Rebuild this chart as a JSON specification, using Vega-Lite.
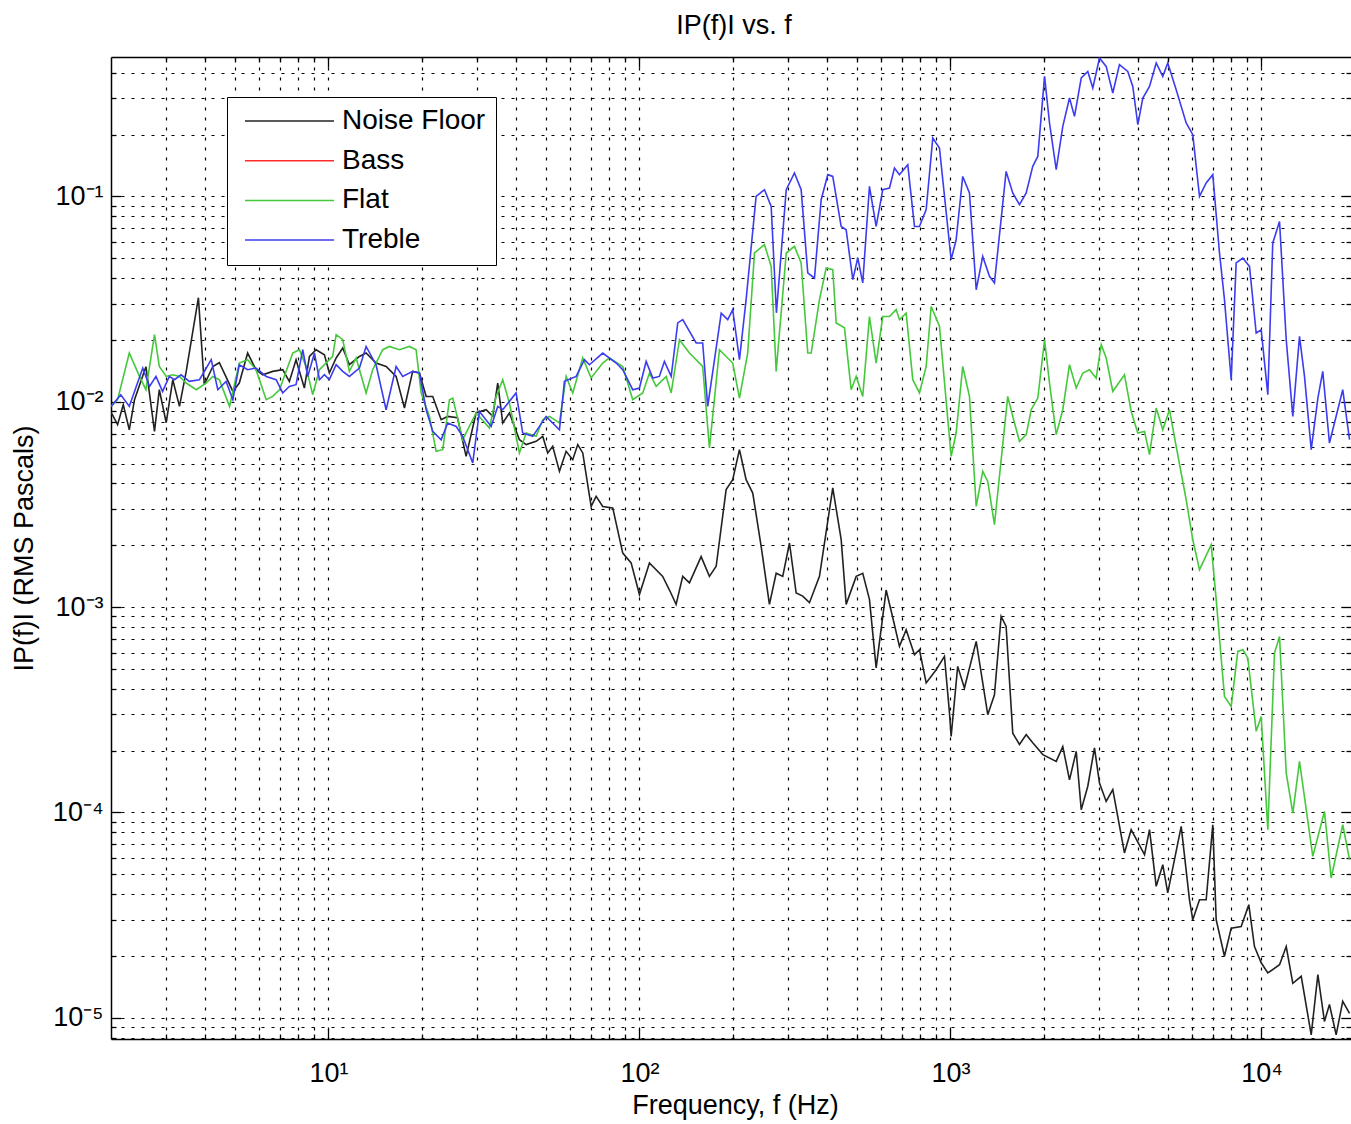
{
"$schema": "https://vega.github.io/schema/vega-lite/v6.json",
"width": 1240, "height": 982,
"autosize": {"type": "none"},
"padding": {"left": 111, "top": 57, "right": 0, "bottom": 85},
"background": "white",
"title": {"text": "IP(f)I vs. f", "font": "Liberation Sans", "fontSize": 27, "fontWeight": "normal", "color": "black", "offset": 16, "anchor": "middle", "dx": 3},
"config": {"view": {"stroke": null}},
"data": {"values": [
{"series":"Noise Floor","freq":2.00,"amp":0.00884},{"series":"Noise Floor","freq":2.02,"amp":0.00865},{"series":"Noise Floor","freq":2.10,"amp":0.00773},{"series":"Noise Floor","freq":2.19,"amp":0.00967},{"series":"Noise Floor","freq":2.29,"amp":0.0073},{"series":"Noise Floor","freq":2.38,"amp":0.01023},{"series":"Noise Floor","freq":2.59,"amp":0.01481},{"series":"Noise Floor","freq":2.76,"amp":0.00717},{"series":"Noise Floor","freq":2.86,"amp":0.01144},{"series":"Noise Floor","freq":3.01,"amp":0.0079},{"series":"Noise Floor","freq":3.16,"amp":0.0128},{"series":"Noise Floor","freq":3.32,"amp":0.00949},{"series":"Noise Floor","freq":3.49,"amp":0.01405},{"series":"Noise Floor","freq":3.82,"amp":0.0321},{"series":"Noise Floor","freq":3.99,"amp":0.0121},{"series":"Noise Floor","freq":4.25,"amp":0.01485},{"series":"Noise Floor","freq":4.46,"amp":0.01549},{"series":"Noise Floor","freq":4.93,"amp":0.01122},{"series":"Noise Floor","freq":5.17,"amp":0.01233},{"series":"Noise Floor","freq":5.50,"amp":0.01726},{"series":"Noise Floor","freq":5.85,"amp":0.01432},{"series":"Noise Floor","freq":6.15,"amp":0.01353},{"series":"Noise Floor","freq":6.62,"amp":0.01405},{"series":"Noise Floor","freq":7.13,"amp":0.01432},{"series":"Noise Floor","freq":7.49,"amp":0.01256},{"series":"Noise Floor","freq":7.87,"amp":0.01602},{"series":"Noise Floor","freq":8.37,"amp":0.01166},{"series":"Noise Floor","freq":8.69,"amp":0.01662},{"series":"Noise Floor","freq":9.13,"amp":0.01792},{"series":"Noise Floor","freq":9.71,"amp":0.01694},{"series":"Noise Floor","freq":10.07,"amp":0.0138},{"series":"Noise Floor","freq":10.59,"amp":0.01633},{"series":"Noise Floor","freq":11.12,"amp":0.01826},{"series":"Noise Floor","freq":11.68,"amp":0.01514},{"series":"Noise Floor","freq":12.58,"amp":0.01662},{"series":"Noise Floor","freq":13.22,"amp":0.01726},{"series":"Noise Floor","freq":14.23,"amp":0.01543},{"series":"Noise Floor","freq":15.33,"amp":0.01485},{"series":"Noise Floor","freq":16.51,"amp":0.01328},{"series":"Noise Floor","freq":17.56,"amp":0.00932},{"series":"Noise Floor","freq":18.66,"amp":0.01405},{"series":"Noise Floor","freq":19.62,"amp":0.0138},{"series":"Noise Floor","freq":20.62,"amp":0.01061},{"series":"Noise Floor","freq":21.65,"amp":0.01061},{"series":"Noise Floor","freq":23.04,"amp":0.00817},{"series":"Noise Floor","freq":24.19,"amp":0.00848},{"series":"Noise Floor","freq":25.99,"amp":0.00836},{"series":"Noise Floor","freq":27.72,"amp":0.00542},{"series":"Noise Floor","freq":29.85,"amp":0.00884},{"series":"Noise Floor","freq":32.15,"amp":0.00914},{"series":"Noise Floor","freq":33.76,"amp":0.00848},{"series":"Noise Floor","freq":35.03,"amp":0.01233},{"series":"Noise Floor","freq":36.35,"amp":0.00788},{"series":"Noise Floor","freq":38.19,"amp":0.00881},{"series":"Noise Floor","freq":41.13,"amp":0.00653},{"series":"Noise Floor","freq":43.23,"amp":0.00618},{"series":"Noise Floor","freq":46.55,"amp":0.00641},{"series":"Noise Floor","freq":48.88,"amp":0.00678},{"series":"Noise Floor","freq":50.72,"amp":0.00563},{"series":"Noise Floor","freq":52.62,"amp":0.00606},{"series":"Noise Floor","freq":55.32,"amp":0.00458},{"series":"Noise Floor","freq":58.12,"amp":0.00573},{"series":"Noise Floor","freq":61.04,"amp":0.00522},{"series":"Noise Floor","freq":63.34,"amp":0.00618},{"series":"Noise Floor","freq":65.73,"amp":0.00563},{"series":"Noise Floor","freq":69.94,"amp":0.00309},{"series":"Noise Floor","freq":72.58,"amp":0.00346},{"series":"Noise Floor","freq":76.21,"amp":0.00309},{"series":"Noise Floor","freq":82.07,"amp":0.00304},{"series":"Noise Floor","freq":88.39,"amp":0.00183},{"series":"Noise Floor","freq":94.04,"amp":0.00164},{"series":"Noise Floor","freq":100,"amp":0.00115},{"series":"Noise Floor","freq":107.7,"amp":0.00164},{"series":"Noise Floor","freq":118.8,"amp":0.00141},{"series":"Noise Floor","freq":124.9,"amp":0.00121},{"series":"Noise Floor","freq":131.2,"amp":0.00103},{"series":"Noise Floor","freq":137.8,"amp":0.00141},{"series":"Noise Floor","freq":144.8,"amp":0.00131},{"series":"Noise Floor","freq":157.9,"amp":0.00176},{"series":"Noise Floor","freq":167.9,"amp":0.00141},{"series":"Noise Floor","freq":176.5,"amp":0.00158},{"series":"Noise Floor","freq":190.0,"amp":0.00373},{"series":"Noise Floor","freq":199.5,"amp":0.00417},{"series":"Noise Floor","freq":209.7,"amp":0.00584},{"series":"Noise Floor","freq":220.3,"amp":0.00417},{"series":"Noise Floor","freq":231.4,"amp":0.00359},{"series":"Noise Floor","freq":246.3,"amp":0.00197},{"series":"Noise Floor","freq":261.8,"amp":0.00103},{"series":"Noise Floor","freq":275.2,"amp":0.00146},{"series":"Noise Floor","freq":288.9,"amp":0.00141},{"series":"Noise Floor","freq":303.7,"amp":0.00205},{"series":"Noise Floor","freq":319.1,"amp":0.00117},{"series":"Noise Floor","freq":335.0,"amp":0.00113},{"series":"Noise Floor","freq":352.1,"amp":0.00105},{"series":"Noise Floor","freq":379.2,"amp":0.00141},{"series":"Noise Floor","freq":418.4,"amp":0.0038},{"series":"Noise Floor","freq":445.3,"amp":0.00213},{"series":"Noise Floor","freq":462.0,"amp":0.00103},{"series":"Noise Floor","freq":497.6,"amp":0.00141},{"series":"Noise Floor","freq":522.4,"amp":0.00146},{"series":"Noise Floor","freq":549.0,"amp":0.00109},{"series":"Noise Floor","freq":576.9,"amp":0.000505},{"series":"Noise Floor","freq":621.2,"amp":0.00121},{"series":"Noise Floor","freq":652.5,"amp":0.000887},{"series":"Noise Floor","freq":685.5,"amp":0.000643},{"series":"Noise Floor","freq":720.5,"amp":0.000775},{"series":"Noise Floor","freq":766.1,"amp":0.000586},{"series":"Noise Floor","freq":795.0,"amp":0.000619},{"series":"Noise Floor","freq":835.5,"amp":0.000427},{"series":"Noise Floor","freq":899.5,"amp":0.000495},{"series":"Noise Floor","freq":956.6,"amp":0.000575},{"series":"Noise Floor","freq":992.7,"amp":0.000305},{"series":"Noise Floor","freq":1005,"amp":0.000234},{"series":"Noise Floor","freq":1055,"amp":0.000514},{"series":"Noise Floor","freq":1109,"amp":0.000403},{"series":"Noise Floor","freq":1210,"amp":0.00068},{"series":"Noise Floor","freq":1318,"amp":0.000299},{"series":"Noise Floor","freq":1385,"amp":0.000374},{"series":"Noise Floor","freq":1455,"amp":0.0009},{"series":"Noise Floor","freq":1510,"amp":0.000804},{"series":"Noise Floor","freq":1586,"amp":0.000243},{"series":"Noise Floor","freq":1667,"amp":0.000214},{"series":"Noise Floor","freq":1752,"amp":0.000239},{"series":"Noise Floor","freq":1839,"amp":0.000218},{"series":"Noise Floor","freq":1982,"amp":0.000191},{"series":"Noise Floor","freq":2188,"amp":0.000177},{"series":"Noise Floor","freq":2297,"amp":0.000209},{"series":"Noise Floor","freq":2414,"amp":0.000144},{"series":"Noise Floor","freq":2537,"amp":0.000198},{"series":"Noise Floor","freq":2633,"amp":0.000103},{"series":"Noise Floor","freq":2764,"amp":0.000134},{"series":"Noise Floor","freq":2904,"amp":0.000206},{"series":"Noise Floor","freq":3014,"amp":0.000139},{"series":"Noise Floor","freq":3167,"amp":0.000113},{"series":"Noise Floor","freq":3326,"amp":0.000129},{"series":"Noise Floor","freq":3626,"amp":0.0000634},{"series":"Noise Floor","freq":3811,"amp":0.0000823},{"series":"Noise Floor","freq":4207,"amp":0.0000622},{"series":"Noise Floor","freq":4365,"amp":0.0000823},{"series":"Noise Floor","freq":4587,"amp":0.0000436},{"series":"Noise Floor","freq":4816,"amp":0.0000556},{"series":"Noise Floor","freq":4996,"amp":0.0000405},{"series":"Noise Floor","freq":5519,"amp":0.0000854},{"series":"Noise Floor","freq":5868,"amp":0.0000375},{"series":"Noise Floor","freq":6013,"amp":0.00003},{"series":"Noise Floor","freq":6320,"amp":0.0000375},{"series":"Noise Floor","freq":6640,"amp":0.0000375},{"series":"Noise Floor","freq":6973,"amp":0.000087},{"series":"Noise Floor","freq":7150,"amp":0.00003},{"series":"Noise Floor","freq":7603,"amp":0.0000199},{"series":"Noise Floor","freq":7991,"amp":0.0000273},{"series":"Noise Floor","freq":8604,"amp":0.0000278},{"series":"Noise Floor","freq":9103,"amp":0.0000355},{"series":"Noise Floor","freq":9495,"amp":0.0000222},{"series":"Noise Floor","freq":9978,"amp":0.0000185},{"series":"Noise Floor","freq":10480,"amp":0.0000165},{"series":"Noise Floor","freq":11430,"amp":0.0000181},{"series":"Noise Floor","freq":12010,"amp":0.0000222},{"series":"Noise Floor","freq":12610,"amp":0.0000147},{"series":"Noise Floor","freq":13420,"amp":0.0000159},{"series":"Noise Floor","freq":14450,"amp":0.00000825},{"series":"Noise Floor","freq":15180,"amp":0.0000162},{"series":"Noise Floor","freq":15940,"amp":0.00000958},{"series":"Noise Floor","freq":16540,"amp":0.0000116},{"series":"Noise Floor","freq":17380,"amp":0.00000825},{"series":"Noise Floor","freq":18250,"amp":0.000012},{"series":"Noise Floor","freq":19190,"amp":0.0000105},
{"series":"Flat","freq":2.00,"amp":0.00949},{"series":"Flat","freq":2.10,"amp":0.01023},{"series":"Flat","freq":2.29,"amp":0.01726},{"series":"Flat","freq":2.47,"amp":0.01328},{"series":"Flat","freq":2.59,"amp":0.01144},{"series":"Flat","freq":2.76,"amp":0.0212},{"series":"Flat","freq":2.86,"amp":0.01485},{"series":"Flat","freq":3.01,"amp":0.01328},{"series":"Flat","freq":3.16,"amp":0.01353},{"series":"Flat","freq":3.32,"amp":0.01328},{"series":"Flat","freq":3.49,"amp":0.01233},{"series":"Flat","freq":3.76,"amp":0.01144},{"series":"Flat","freq":4.04,"amp":0.01233},{"series":"Flat","freq":4.25,"amp":0.01328},{"series":"Flat","freq":4.46,"amp":0.0128},{"series":"Flat","freq":4.81,"amp":0.00949},{"series":"Flat","freq":5.17,"amp":0.01543},{"series":"Flat","freq":5.50,"amp":0.01602},{"series":"Flat","freq":5.85,"amp":0.01432},{"series":"Flat","freq":6.31,"amp":0.01023},{"series":"Flat","freq":6.62,"amp":0.01061},{"series":"Flat","freq":6.96,"amp":0.01144},{"series":"Flat","freq":7.68,"amp":0.01726},{"series":"Flat","freq":8.07,"amp":0.01792},{"series":"Flat","freq":8.47,"amp":0.01485},{"series":"Flat","freq":8.90,"amp":0.01082},{"series":"Flat","freq":9.36,"amp":0.01432},{"series":"Flat","freq":10.32,"amp":0.01662},{"series":"Flat","freq":10.59,"amp":0.0212},{"series":"Flat","freq":11.12,"amp":0.02004},{"series":"Flat","freq":11.68,"amp":0.01405},{"series":"Flat","freq":12.28,"amp":0.01633},{"series":"Flat","freq":13.22,"amp":0.01103},{"series":"Flat","freq":13.88,"amp":0.01432},{"series":"Flat","freq":14.95,"amp":0.01792},{"series":"Flat","freq":15.71,"amp":0.01859},{"series":"Flat","freq":16.92,"amp":0.01792},{"series":"Flat","freq":18.21,"amp":0.01859},{"series":"Flat","freq":19.14,"amp":0.01792},{"series":"Flat","freq":19.87,"amp":0.01103},{"series":"Flat","freq":21.13,"amp":0.00848},{"series":"Flat","freq":22.20,"amp":0.00573},{"series":"Flat","freq":23.31,"amp":0.00584},{"series":"Flat","freq":24.50,"amp":0.01023},{"series":"Flat","freq":25.11,"amp":0.01042},{"series":"Flat","freq":27.03,"amp":0.00653},{"series":"Flat","freq":29.85,"amp":0.00881},{"series":"Flat","freq":32.94,"amp":0.00745},{"series":"Flat","freq":34.62,"amp":0.01061},{"series":"Flat","freq":36.35,"amp":0.0128},{"series":"Flat","freq":38.19,"amp":0.00986},{"series":"Flat","freq":41.13,"amp":0.00563},{"series":"Flat","freq":43.23,"amp":0.00704},{"series":"Flat","freq":46.55,"amp":0.00678},{"series":"Flat","freq":48.88,"amp":0.00817},{"series":"Flat","freq":51.35,"amp":0.00848},{"series":"Flat","freq":55.32,"amp":0.00788},{"series":"Flat","freq":58.12,"amp":0.01328},{"series":"Flat","freq":61.04,"amp":0.01103},{"series":"Flat","freq":65.73,"amp":0.01633},{"series":"Flat","freq":69.94,"amp":0.01304},{"series":"Flat","freq":76.21,"amp":0.01543},{"series":"Flat","freq":80.09,"amp":0.01633},{"series":"Flat","freq":88.39,"amp":0.01485},{"series":"Flat","freq":95.16,"amp":0.01023},{"series":"Flat","freq":102.5,"amp":0.01103},{"series":"Flat","freq":107.7,"amp":0.0138},{"series":"Flat","freq":113.2,"amp":0.01187},{"series":"Flat","freq":121.9,"amp":0.01328},{"series":"Flat","freq":126.5,"amp":0.01103},{"series":"Flat","freq":134.5,"amp":0.02004},{"series":"Flat","freq":144.8,"amp":0.01726},{"series":"Flat","freq":159.7,"amp":0.01485},{"series":"Flat","freq":167.9,"amp":0.00595},{"series":"Flat","freq":180.8,"amp":0.01792},{"series":"Flat","freq":199.5,"amp":0.01543},{"series":"Flat","freq":209.7,"amp":0.01042},{"series":"Flat","freq":222.9,"amp":0.01726},{"series":"Flat","freq":234.4,"amp":0.053},{"series":"Flat","freq":252.4,"amp":0.0582},{"series":"Flat","freq":265.2,"amp":0.0456},{"series":"Flat","freq":275.2,"amp":0.01405},{"series":"Flat","freq":296.5,"amp":0.053},{"series":"Flat","freq":315.1,"amp":0.0571},{"series":"Flat","freq":331.1,"amp":0.0474},{"series":"Flat","freq":347.7,"amp":0.01726},{"series":"Flat","freq":356.6,"amp":0.01726},{"series":"Flat","freq":379.2,"amp":0.0314},{"series":"Flat","freq":398.5,"amp":0.0448},{"series":"Flat","freq":418.4,"amp":0.044},{"series":"Flat","freq":429.1,"amp":0.0242},{"series":"Flat","freq":456.3,"amp":0.0229},{"series":"Flat","freq":479.5,"amp":0.01144},{"series":"Flat","freq":497.6,"amp":0.01328},{"series":"Flat","freq":522.4,"amp":0.01061},{"series":"Flat","freq":549.0,"amp":0.026},{"series":"Flat","freq":576.9,"amp":0.01543},{"series":"Flat","freq":605.8,"amp":0.026},{"series":"Flat","freq":636.7,"amp":0.026},{"series":"Flat","freq":669.1,"amp":0.0281},{"series":"Flat","freq":685.5,"amp":0.0251},{"series":"Flat","freq":720.5,"amp":0.027},{"series":"Flat","freq":756.6,"amp":0.0128},{"series":"Flat","freq":795.0,"amp":0.01103},{"series":"Flat","freq":835.5,"amp":0.01485},{"series":"Flat","freq":866.9,"amp":0.0291},{"series":"Flat","freq":921.8,"amp":0.0233},{"series":"Flat","freq":1005,"amp":0.00542},{"series":"Flat","freq":1043,"amp":0.00704},{"series":"Flat","freq":1095,"amp":0.01485},{"series":"Flat","freq":1151,"amp":0.01061},{"series":"Flat","freq":1210,"amp":0.00309},{"series":"Flat","freq":1270,"amp":0.00458},{"series":"Flat","freq":1318,"amp":0.00409},{"series":"Flat","freq":1385,"amp":0.00252},{"series":"Flat","freq":1528,"amp":0.01061},{"series":"Flat","freq":1586,"amp":0.00848},{"series":"Flat","freq":1667,"amp":0.00641},{"series":"Flat","freq":1752,"amp":0.00691},{"series":"Flat","freq":1818,"amp":0.00914},{"series":"Flat","freq":1909,"amp":0.01042},{"series":"Flat","freq":2007,"amp":0.02004},{"series":"Flat","freq":2082,"amp":0.01233},{"series":"Flat","freq":2188,"amp":0.00691},{"series":"Flat","freq":2297,"amp":0.00914},{"series":"Flat","freq":2414,"amp":0.01514},{"series":"Flat","freq":2537,"amp":0.01166},{"series":"Flat","freq":2664,"amp":0.0138},{"series":"Flat","freq":2799,"amp":0.01432},{"series":"Flat","freq":2941,"amp":0.01304},{"series":"Flat","freq":3053,"amp":0.01895},{"series":"Flat","freq":3167,"amp":0.01633},{"series":"Flat","freq":3326,"amp":0.01122},{"series":"Flat","freq":3626,"amp":0.01353},{"series":"Flat","freq":3811,"amp":0.00897},{"series":"Flat","freq":4003,"amp":0.00704},{"series":"Flat","freq":4207,"amp":0.00717},{"series":"Flat","freq":4365,"amp":0.00552},{"series":"Flat","freq":4587,"amp":0.00932},{"series":"Flat","freq":4816,"amp":0.0073},{"series":"Flat","freq":5060,"amp":0.00914},{"series":"Flat","freq":5318,"amp":0.00606},{"series":"Flat","freq":5727,"amp":0.00333},{"series":"Flat","freq":6013,"amp":0.00213},{"series":"Flat","freq":6320,"amp":0.00152},{"series":"Flat","freq":6892,"amp":0.00201},{"series":"Flat","freq":7150,"amp":0.00109},{"series":"Flat","freq":7603,"amp":0.000367},{"series":"Flat","freq":7991,"amp":0.000328},{"series":"Flat","freq":8391,"amp":0.000608},{"series":"Flat","freq":8707,"amp":0.000619},{"series":"Flat","freq":9034,"amp":0.000565},{"series":"Flat","freq":9616,"amp":0.000248},{"series":"Flat","freq":9978,"amp":0.000293},{"series":"Flat","freq":10480,"amp":0.0000823},{"series":"Flat","freq":11010,"amp":0.000597},{"series":"Flat","freq":11430,"amp":0.000719},{"series":"Flat","freq":12010,"amp":0.000155},{"series":"Flat","freq":12610,"amp":0.0000992},{"series":"Flat","freq":13250,"amp":0.000177},{"series":"Flat","freq":14620,"amp":0.000061},{"series":"Flat","freq":15940,"amp":0.000101},{"series":"Flat","freq":16750,"amp":0.0000479},{"series":"Flat","freq":18250,"amp":0.000087},{"series":"Flat","freq":19190,"amp":0.0000588},
{"series":"Treble","freq":2.00,"amp":0.00949},{"series":"Treble","freq":2.15,"amp":0.01082},{"series":"Treble","freq":2.29,"amp":0.00949},{"series":"Treble","freq":2.53,"amp":0.01459},{"series":"Treble","freq":2.66,"amp":0.01187},{"series":"Treble","freq":2.79,"amp":0.01328},{"series":"Treble","freq":2.93,"amp":0.01122},{"series":"Treble","freq":3.08,"amp":0.01328},{"series":"Treble","freq":3.20,"amp":0.0128},{"series":"Treble","freq":3.36,"amp":0.01353},{"series":"Treble","freq":3.57,"amp":0.01256},{"series":"Treble","freq":3.85,"amp":0.0128},{"series":"Treble","freq":4.20,"amp":0.01602},{"series":"Treble","freq":4.41,"amp":0.01144},{"series":"Treble","freq":4.69,"amp":0.01256},{"series":"Treble","freq":4.93,"amp":0.01023},{"series":"Treble","freq":5.17,"amp":0.01514},{"series":"Treble","freq":5.50,"amp":0.01432},{"series":"Treble","freq":5.85,"amp":0.01459},{"series":"Treble","freq":6.31,"amp":0.01328},{"series":"Treble","freq":6.79,"amp":0.0128},{"series":"Treble","freq":7.13,"amp":0.01103},{"series":"Treble","freq":7.49,"amp":0.01187},{"series":"Treble","freq":7.87,"amp":0.0121},{"series":"Treble","freq":8.27,"amp":0.01792},{"series":"Treble","freq":8.58,"amp":0.01328},{"series":"Treble","freq":9.02,"amp":0.01726},{"series":"Treble","freq":9.36,"amp":0.0128},{"series":"Treble","freq":9.71,"amp":0.01353},{"series":"Treble","freq":10.07,"amp":0.0128},{"series":"Treble","freq":10.59,"amp":0.01514},{"series":"Treble","freq":11.12,"amp":0.01405},{"series":"Treble","freq":11.68,"amp":0.01328},{"series":"Treble","freq":12.58,"amp":0.01459},{"series":"Treble","freq":13.22,"amp":0.01859},{"series":"Treble","freq":14.23,"amp":0.01514},{"series":"Treble","freq":15.33,"amp":0.00914},{"series":"Treble","freq":16.51,"amp":0.01485},{"series":"Treble","freq":17.34,"amp":0.01328},{"series":"Treble","freq":18.66,"amp":0.01405},{"series":"Treble","freq":19.62,"amp":0.0138},{"series":"Treble","freq":20.62,"amp":0.00914},{"series":"Treble","freq":21.65,"amp":0.00717},{"series":"Treble","freq":23.04,"amp":0.00653},{"series":"Treble","freq":24.19,"amp":0.00788},{"series":"Treble","freq":25.74,"amp":0.00758},{"series":"Treble","freq":27.03,"amp":0.00678},{"series":"Treble","freq":29.11,"amp":0.00503},{"series":"Treble","freq":30.59,"amp":0.00897},{"series":"Treble","freq":33.37,"amp":0.00758},{"series":"Treble","freq":35.03,"amp":0.00949},{"series":"Treble","freq":36.35,"amp":0.00914},{"series":"Treble","freq":40.13,"amp":0.01103},{"series":"Treble","freq":42.15,"amp":0.00704},{"series":"Treble","freq":45.39,"amp":0.00678},{"series":"Treble","freq":50.12,"amp":0.00848},{"series":"Treble","freq":55.32,"amp":0.0073},{"series":"Treble","freq":57.40,"amp":0.01256},{"series":"Treble","freq":62.60,"amp":0.01328},{"series":"Treble","freq":66.56,"amp":0.01602},{"series":"Treble","freq":69.06,"amp":0.01514},{"series":"Treble","freq":76.21,"amp":0.01726},{"series":"Treble","freq":84.18,"amp":0.01543},{"series":"Treble","freq":88.39,"amp":0.01432},{"series":"Treble","freq":95.16,"amp":0.01144},{"series":"Treble","freq":100,"amp":0.01166},{"series":"Treble","freq":105.1,"amp":0.01571},{"series":"Treble","freq":110.4,"amp":0.01304},{"series":"Treble","freq":115.9,"amp":0.01328},{"series":"Treble","freq":120.3,"amp":0.01571},{"series":"Treble","freq":126.5,"amp":0.01328},{"series":"Treble","freq":132.8,"amp":0.0242},{"series":"Treble","freq":137.8,"amp":0.0251},{"series":"Treble","freq":152.2,"amp":0.01932},{"series":"Treble","freq":159.7,"amp":0.01932},{"series":"Treble","freq":165.8,"amp":0.00949},{"series":"Treble","freq":183.2,"amp":0.027},{"series":"Treble","freq":192.3,"amp":0.0251},{"series":"Treble","freq":199.5,"amp":0.0281},{"series":"Treble","freq":209.7,"amp":0.01602},{"series":"Treble","freq":220.3,"amp":0.0314},{"series":"Treble","freq":237.2,"amp":0.1},{"series":"Treble","freq":252.4,"amp":0.1078},{"series":"Treble","freq":265.2,"amp":0.0894},{"series":"Treble","freq":275.7,"amp":0.0271},{"series":"Treble","freq":296.5,"amp":0.1078},{"series":"Treble","freq":315.1,"amp":0.130},{"series":"Treble","freq":331.1,"amp":0.1078},{"series":"Treble","freq":347.7,"amp":0.0424},{"series":"Treble","freq":365.4,"amp":0.04},{"series":"Treble","freq":384.0,"amp":0.0963},{"series":"Treble","freq":403.3,"amp":0.1276},{"series":"Treble","freq":418.4,"amp":0.1251},{"series":"Treble","freq":445.3,"amp":0.0714},{"series":"Treble","freq":462.0,"amp":0.0688},{"series":"Treble","freq":485.3,"amp":0.0393},{"series":"Treble","freq":503.5,"amp":0.0501},{"series":"Treble","freq":522.4,"amp":0.0379},{"series":"Treble","freq":549.0,"amp":0.1119},{"series":"Treble","freq":576.9,"amp":0.0714},{"series":"Treble","freq":605.8,"amp":0.1078},{"series":"Treble","freq":636.7,"amp":0.1099},{"series":"Treble","freq":660.7,"amp":0.1375},{"series":"Treble","freq":685.5,"amp":0.1276},{"series":"Treble","freq":729.0,"amp":0.1427},{"series":"Treble","freq":766.1,"amp":0.0714},{"series":"Treble","freq":795.0,"amp":0.0714},{"series":"Treble","freq":835.5,"amp":0.0862},{"series":"Treble","freq":877.3,"amp":0.1926},{"series":"Treble","freq":921.8,"amp":0.1721},{"series":"Treble","freq":1005,"amp":0.0492},{"series":"Treble","freq":1043,"amp":0.0615},{"series":"Treble","freq":1095,"amp":0.1251},{"series":"Treble","freq":1151,"amp":0.1039},{"series":"Treble","freq":1210,"amp":0.0351},{"series":"Treble","freq":1270,"amp":0.051},{"series":"Treble","freq":1335,"amp":0.0408},{"series":"Treble","freq":1385,"amp":0.0379},{"series":"Treble","freq":1510,"amp":0.1323},{"series":"Treble","freq":1586,"amp":0.1039},{"series":"Treble","freq":1667,"amp":0.0911},{"series":"Treble","freq":1752,"amp":0.1039},{"series":"Treble","freq":1839,"amp":0.14},{"series":"Treble","freq":1909,"amp":0.1566},{"series":"Treble","freq":2007,"amp":0.3842},{"series":"Treble","freq":2082,"amp":0.2278},{"series":"Treble","freq":2188,"amp":0.1349},{"series":"Treble","freq":2297,"amp":0.2193},{"series":"Treble","freq":2414,"amp":0.3015},{"series":"Treble","freq":2505,"amp":0.2453},{"series":"Treble","freq":2633,"amp":0.3773},{"series":"Treble","freq":2764,"amp":0.4062},{"series":"Treble","freq":2869,"amp":0.3373},{"series":"Treble","freq":3014,"amp":0.4722},{"series":"Treble","freq":3167,"amp":0.4298},{"series":"Treble","freq":3326,"amp":0.3189},{"series":"Treble","freq":3494,"amp":0.4381},{"series":"Treble","freq":3716,"amp":0.4062},{"series":"Treble","freq":3857,"amp":0.3434},{"series":"Treble","freq":4003,"amp":0.2235},{"series":"Treble","freq":4154,"amp":0.3015},{"series":"Treble","freq":4365,"amp":0.3434},{"series":"Treble","freq":4587,"amp":0.4465},{"series":"Treble","freq":4816,"amp":0.3842},{"series":"Treble","freq":4996,"amp":0.4465},{"series":"Treble","freq":5318,"amp":0.3309},{"series":"Treble","freq":5727,"amp":0.2278},{"series":"Treble","freq":6013,"amp":0.1997},{"series":"Treble","freq":6320,"amp":0.1},{"series":"Treble","freq":6640,"amp":0.1162},{"series":"Treble","freq":6973,"amp":0.1276},{"series":"Treble","freq":7328,"amp":0.053},{"series":"Treble","freq":7603,"amp":0.0314},{"series":"Treble","freq":7991,"amp":0.0128},{"series":"Treble","freq":8291,"amp":0.0474},{"series":"Treble","freq":8707,"amp":0.0501},{"series":"Treble","freq":9150,"amp":0.0456},{"series":"Treble","freq":9616,"amp":0.0216},{"series":"Treble","freq":9978,"amp":0.0224},{"series":"Treble","freq":10480,"amp":0.01082},{"series":"Treble","freq":10870,"amp":0.0593},{"series":"Treble","freq":11430,"amp":0.0755},{"series":"Treble","freq":12010,"amp":0.02004},{"series":"Treble","freq":12610,"amp":0.00848},{"series":"Treble","freq":13250,"amp":0.0208},{"series":"Treble","freq":13750,"amp":0.01328},{"series":"Treble","freq":14450,"amp":0.00584},{"series":"Treble","freq":15180,"amp":0.01042},{"series":"Treble","freq":15740,"amp":0.01405},{"series":"Treble","freq":16540,"amp":0.00629},{"series":"Treble","freq":18250,"amp":0.01144},{"series":"Treble","freq":19190,"amp":0.00653}
]},
"layer": [
{
"mark": {"type": "line", "strokeWidth": 1.6, "clip": true},
"encoding": {
"x": {"field": "freq", "type": "quantitative",
 "scale": {"type": "log", "domain": [2, 19400], "nice": false, "zero": false},
 "axis": {"orient": "bottom",
  "values": [3,4,5,6,7,8,9,10,20,30,40,50,60,70,80,90,100,200,300,400,500,600,700,800,900,1000,2000,3000,4000,5000,6000,7000,8000,9000,10000],
  "grid": true, "gridDash": [3,7], "gridColor": "black", "gridOpacity": 1, "gridWidth": 1.2,
  "tickColor": "black", "tickWidth": 1.3,
  "tickSize": {"condition": {"test": "abs(log(datum.value)/LN10 - round(log(datum.value)/LN10)) < 0.001", "value": -10}, "value": -5},
  "labelExpr": "datum.value == 10 ? '10¹' : datum.value == 100 ? '10²' : datum.value == 1000 ? '10³' : datum.value == 10000 ? '10⁴' : ''",
  "labelFont": "Liberation Sans", "labelFontSize": 27, "labelColor": "black", "labelPadding": 31,
  "labelOverlap": false, "labelFlush": false, "labelBound": false,
  "domain": true, "domainColor": "black", "domainWidth": 1.5,
  "title": "Frequency, f (Hz)", "titleFont": "Liberation Sans", "titleFontSize": 27, "titleFontWeight": "normal", "titleColor": "black", "titlePadding": 1, "titleX": 624}},
"y": {"field": "amp", "type": "quantitative",
 "scale": {"type": "log", "domain": [0.00000787, 0.4775], "nice": false, "zero": false},
 "axis": {"orient": "left",
  "values": [0.000008,0.000009,0.00001,0.00002,0.00003,0.00004,0.00005,0.00006,0.00007,0.00008,0.00009,0.0001,0.0002,0.0003,0.0004,0.0005,0.0006,0.0007,0.0008,0.0009,0.001,0.002,0.003,0.004,0.005,0.006,0.007,0.008,0.009,0.01,0.02,0.03,0.04,0.05,0.06,0.07,0.08,0.09,0.1,0.2,0.3,0.4],
  "grid": true, "gridDash": [3,7], "gridColor": "black", "gridOpacity": 1, "gridWidth": 1.2,
  "tickColor": "black", "tickWidth": 1.3,
  "tickSize": {"condition": {"test": "abs(log(datum.value)/LN10 - round(log(datum.value)/LN10)) < 0.001", "value": -10}, "value": -5},
  "labelExpr": "datum.value == 0.1 ? '10⁻¹' : datum.value == 0.01 ? '10⁻²' : datum.value == 0.001 ? '10⁻³' : datum.value == 0.0001 ? '10⁻⁴' : datum.value == 0.00001 ? '10⁻⁵' : ''",
  "labelFont": "Liberation Sans", "labelFontSize": 27, "labelColor": "black", "labelPadding": 18,
  "labelOverlap": false, "labelFlush": false, "labelBound": false,
  "domain": true, "domainColor": "black", "domainWidth": 1.5,
  "title": "IP(f)I (RMS Pascals)", "titleFont": "Liberation Sans", "titleFontSize": 27, "titleFontWeight": "normal", "titleColor": "black", "titlePadding": 14}},
"color": {"field": "series", "type": "nominal",
 "scale": {"domain": ["Noise Floor", "Bass", "Flat", "Treble"], "range": ["#222222", "#ff2a2a", "#46c83c", "#3c3cf0"]},
 "legend": {"title": null, "orient": "none", "legendX": 116, "legendY": 40, "direction": "vertical",
  "symbolType": "stroke", "symbolSize": 7921, "symbolStrokeWidth": 1.5, "clipHeight": 28, "rowPadding": 11.7,
  "labelFont": "Liberation Sans", "labelFontSize": 28, "labelColor": "black", "labelOffset": 7, "symbolOffset": 7, "labelLimit": 400,
  "padding": 10, "strokeColor": "black", "fillColor": "white", "cornerRadius": 0}}
}
},
{
"mark": {"type": "line", "strokeOpacity": 0},
"encoding": {
"x": {"field": "freq", "type": "quantitative",
 "axis": {"orient": "top",
  "values": [3,4,5,6,7,8,9,10,20,30,40,50,60,70,80,90,100,200,300,400,500,600,700,800,900,1000,2000,3000,4000,5000,6000,7000,8000,9000,10000],
  "grid": false, "labels": false, "title": null,
  "tickColor": "black", "tickWidth": 1.3,
  "tickSize": {"condition": {"test": "abs(log(datum.value)/LN10 - round(log(datum.value)/LN10)) < 0.001", "value": -10}, "value": -5},
  "domain": true, "domainColor": "black", "domainWidth": 1.5}},
"y": {"field": "amp", "type": "quantitative",
 "axis": {"orient": "right",
  "values": [0.000008,0.000009,0.00001,0.00002,0.00003,0.00004,0.00005,0.00006,0.00007,0.00008,0.00009,0.0001,0.0002,0.0003,0.0004,0.0005,0.0006,0.0007,0.0008,0.0009,0.001,0.002,0.003,0.004,0.005,0.006,0.007,0.008,0.009,0.01,0.02,0.03,0.04,0.05,0.06,0.07,0.08,0.09,0.1,0.2,0.3,0.4],
  "grid": false, "labels": false, "title": null,
  "tickColor": "black", "tickWidth": 1.3,
  "tickSize": {"condition": {"test": "abs(log(datum.value)/LN10 - round(log(datum.value)/LN10)) < 0.001", "value": -10}, "value": -5},
  "domain": false}}
}
}
],
"resolve": {"axis": {"x": "independent", "y": "independent"}}
}
